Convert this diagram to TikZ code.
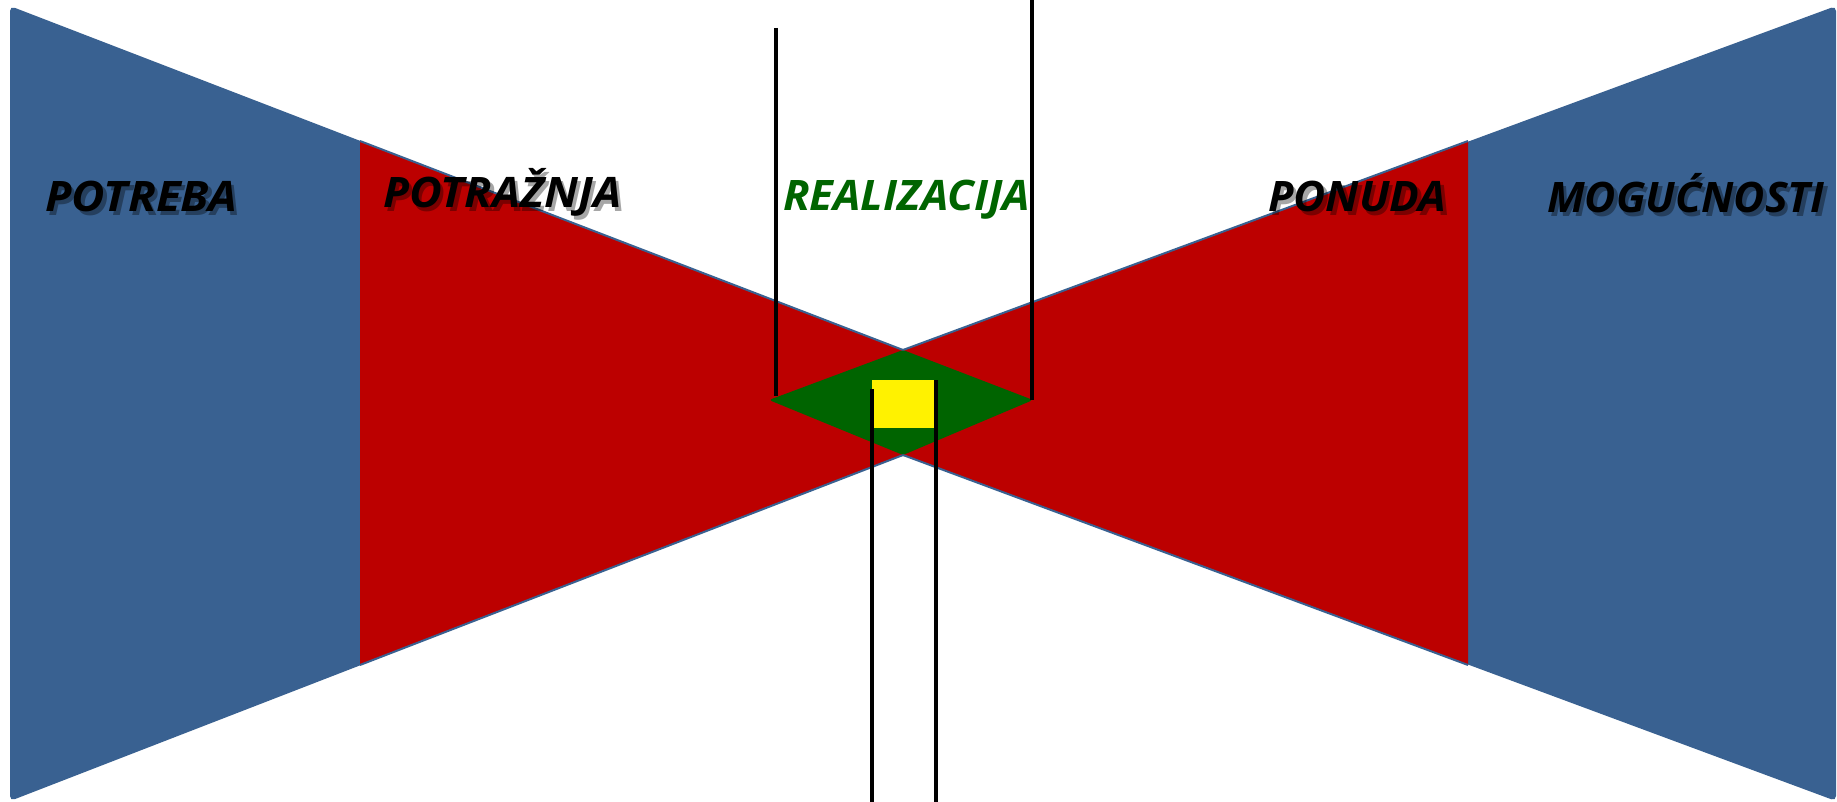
\documentclass[tikz,border=0pt]{standalone}
\usepackage{fontspec}
\setmainfont{Open Sans}
\definecolor{bfblue}{RGB}{57,97,145}
\definecolor{bfred}{RGB}{188,0,0}
\definecolor{bfgreen}{RGB}{0,100,0}
\newcommand\shcopy[3]{\rlap{\kern#1pt\raisebox{-#2pt}{#3}}}
\newcommand\shadowtext[1]{%
  \rlap{\begin{pgfscope}\pgfsetfillopacity{0.35}%
    \shcopy{3.5}{3.5}{#1}%
  \end{pgfscope}}#1}
\begin{document}
\begin{tikzpicture}[x=1pt,y=-1pt,
  lbl/.style={anchor=base west,inner sep=0pt,font=\fontsize{42}{50}\selectfont\bfseries\itshape},
  bar/.style={line width=4pt,black}]
\useasboundingbox (0,0) rectangle (1837,802);
\fill[white] (0,0) rectangle (1837,802);
% outer blue bow tie
\fill[bfblue,rounded corners=5pt] (10,6) -- (903,350) -- (1836,6) -- (1836,801) -- (903,455) -- (10,801) -- cycle;
% red inner bow tie
\fill[bfred] (360,141) -- (903,350) -- (1468,141) -- (1468,665) -- (903,455) -- (360,665) -- cycle;
\draw[bfblue,line width=2pt] (360,141) -- (903,350) -- (1468,141);
\draw[bfblue,line width=2pt] (360,665) -- (903,455) -- (1468,665);
% diamond
\coordinate (dl) at (769,400);
\coordinate (dt) at (903,350);
\coordinate (dr) at (1033,400);
\coordinate (db) at (903,455);
\fill[bfgreen,rounded corners=3pt] (dl) -- (dt) -- (dr) -- (db) -- cycle;
% yellow square
\node[fill=yellow,minimum width=64pt,minimum height=48pt,inner sep=0pt,anchor=north west] (sq) at (872,380) {};
% bars
\coordinate (a1) at (776,28);  \coordinate (a2) at (776,396);
\coordinate (b1) at (1032,0);  \coordinate (b2) at (1032,400);
\coordinate (c1) at (871.5,389); \coordinate (c2) at (871.5,802);
\coordinate (e1) at (936,380); \coordinate (e2) at (936,802);
\draw[bar] (a1) -- (a2);
\draw[bar] (b1) -- (b2);
\draw[bar] (c1) -- (c2);
\draw[bar] (e1) -- (e2);
% labels
\node[lbl] (potreba) at (45,212) {\shadowtext{\scalebox{1.09}[1]{POTREBA}}};
\node[lbl] (potraznja) at (383,208) {\shadowtext{\scalebox{1.07}[1]{POTRAŽNJA}}};
\node[lbl] (ponuda) at (1268,212) {\shadowtext{\scalebox{1.05}[1]{PONUDA}}};
\node[lbl] (mogucnosti) at (1547,213) {\shadowtext{\scalebox{1.02}[1]{MOGUĆNOSTI}}};
\node[lbl,text=bfgreen] (realizacija) at (783,211) {\scalebox{1.04}[1]{REALIZACIJA}};
\end{tikzpicture}
\end{document}
